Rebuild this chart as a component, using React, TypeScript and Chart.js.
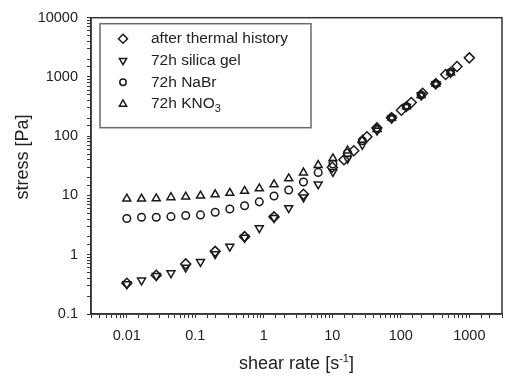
import React, { useEffect, useRef } from "react";
import { Chart, registerables } from "chart.js";

Chart.register(...registerables);

// ---- data ----
const rateGrid = [0.01, 0.0164, 0.0269, 0.0441, 0.0724, 0.119, 0.195, 0.319, 0.524, 0.859, 1.41, 2.31, 3.79, 6.22, 10.2, 16.7, 27.4, 45.0, 73.8, 121, 198, 325, 534];

const thermalRate = [0.01, 0.0269, 0.0724, 0.195, 0.524, 1.41, 3.79, 10, 14.8, 20.6, 32, 44.7, 73, 102, 142, 208, 324, 451, 661, 1000];
const thermalStress = [0.33, 0.45, 0.70, 1.14, 2.02, 4.35, 10.5, 30, 40, 57, 98, 138, 205, 275, 370, 530, 770, 1100, 1500, 2100];

const silicaStress = [0.32, 0.37, 0.44, 0.49, 0.61, 0.76, 1.03, 1.38, 1.95, 2.82, 4.2, 6.15, 9.3, 15.5, 25, 42, 72, 125, 200, 315, 490, 760, 1180];
const nabrStress = [4.1, 4.3, 4.3, 4.4, 4.6, 4.7, 5.2, 5.9, 6.7, 7.8, 9.8, 12.4, 16.9, 24.5, 34, 52, 84, 132, 205, 318, 494, 769, 1197];
const kno3Stress = [8.8, 8.8, 8.9, 9.3, 9.5, 9.9, 10.4, 11.0, 11.9, 13.1, 15.4, 19.3, 24.3, 32.5, 42, 57, 86, 131, 205, 318, 494, 769, 1197];

const seriesNames = ["after thermal history", "72h silica gel", "72h NaBr", "72h KNO"];
const xTickLabels = ["0.01", "0.1", "1", "10", "100", "1000"];
const yTickLabels = ["0.1", "1", "10", "100", "1000", "10000"];
const xTitle = "shear rate [s";
const yTitle = "stress [Pa]";

const FONT = '"Liberation Sans", Arial, Helvetica, sans-serif';
const INK = "#1a1a1a";

function pairs(xs: number[], ys: number[]) {
  return ys.map((y, i) => ({ x: xs[i], y }));
}

function labelFor(value: number, labels: string[], firstExp: number) {
  const e = Math.log10(value);
  const r = Math.round(e);
  if (Math.abs(e - r) < 1e-6) {
    const idx = r - firstExp;
    if (idx >= 0 && idx < labels.length) return labels[idx];
  }
  return "";
}

function drawMarker(ctx: CanvasRenderingContext2D, style: string, x: number, y: number, r: number, rot: number) {
  ctx.beginPath();
  if (style === "rectRot") {
    ctx.moveTo(x - r, y);
    ctx.lineTo(x, y - r);
    ctx.lineTo(x + r, y);
    ctx.lineTo(x, y + r);
    ctx.closePath();
  } else if (style === "triangle") {
    let rad = (rot * Math.PI) / 180;
    ctx.moveTo(x + Math.sin(rad) * r, y - Math.cos(rad) * r);
    rad += (2 * Math.PI) / 3;
    ctx.lineTo(x + Math.sin(rad) * r, y - Math.cos(rad) * r);
    rad += (2 * Math.PI) / 3;
    ctx.lineTo(x + Math.sin(rad) * r, y - Math.cos(rad) * r);
    ctx.closePath();
  } else {
    ctx.arc(x, y, r, 0, Math.PI * 2);
  }
  ctx.stroke();
}

const decoPlugin = {
  id: "deco",
  afterDraw(chart: any) {
    const ctx: CanvasRenderingContext2D = chart.ctx;
    const a = chart.chartArea;
    ctx.save();
    // frame
    ctx.strokeStyle = "#333";
    ctx.lineWidth = 1.5;
    ctx.strokeRect(a.left, a.top, a.right - a.left, a.bottom - a.top);

    // legend box
    const bx = a.left + 9;
    const by = a.top + 6;
    ctx.strokeStyle = "#6a6a6a";
    ctx.lineWidth = 1.5;
    ctx.strokeRect(bx, by, 211, 104);

    const styles = [
      { s: "rectRot", r: 4.5, rot: 0 },
      { s: "triangle", r: 4.2, rot: 180 },
      { s: "circle", r: 3.2, rot: 0 },
      { s: "triangle", r: 4.2, rot: 0 },
    ];
    ctx.font = `15.5px ${FONT}`;
    ctx.textBaseline = "middle";
    ctx.textAlign = "left";
    seriesNames.forEach((name, i) => {
      const y = by + 15 + i * 21.8;
      ctx.strokeStyle = INK;
      ctx.lineWidth = 1.5;
      drawMarker(ctx, styles[i].s, bx + 23, y, styles[i].r, styles[i].rot);
      ctx.fillStyle = "#222";
      ctx.font = `15.5px ${FONT}`;
      ctx.fillText(name, bx + 51, y);
      if (i === 3) {
        const w = ctx.measureText(name).width;
        ctx.font = `11px ${FONT}`;
        ctx.fillText("3", bx + 51 + w, y + 5);
      }
    });

    // x title with superscript
    ctx.fillStyle = "#222";
    ctx.textBaseline = "alphabetic";
    ctx.font = `18px ${FONT}`;
    const w1 = ctx.measureText(xTitle).width;
    ctx.font = `11px ${FONT}`;
    const w2 = ctx.measureText("-1").width;
    ctx.font = `18px ${FONT}`;
    const w3 = ctx.measureText("]").width;
    const total = w1 + w2 + w3;
    const cx = (a.left + a.right) / 2;
    const x0 = cx - total / 2;
    const baseY = 369;
    ctx.fillText(xTitle, x0, baseY);
    ctx.font = `11px ${FONT}`;
    ctx.fillText("-1", x0 + w1, baseY - 7);
    ctx.font = `18px ${FONT}`;
    ctx.fillText("]", x0 + w1 + w2, baseY);

    // y title
    ctx.translate(23, 157);
    ctx.rotate(-Math.PI / 2);
    ctx.textAlign = "center";
    ctx.textBaseline = "middle";
    ctx.fillText(yTitle, 0, 0);
    ctx.restore();
  },
};

export default function App() {
  const ref = useRef<HTMLCanvasElement | null>(null);

  useEffect(() => {
    if (!ref.current) return;
    const common = {
      showLine: false,
      borderColor: INK,
      backgroundColor: "rgba(0,0,0,0)",
      borderWidth: 1.5,
      pointBorderWidth: 1.5,
    };
    const chart = new Chart(ref.current, {
      type: "scatter",
      data: {
        datasets: [
          { ...common, label: seriesNames[3] + "3", data: pairs(rateGrid, kno3Stress), pointStyle: "triangle", pointRadius: 4.6 },
          { ...common, label: seriesNames[2], data: pairs(rateGrid, nabrStress), pointStyle: "circle", pointRadius: 3.8 },
          { ...common, label: seriesNames[1], data: pairs(rateGrid, silicaStress), pointStyle: "triangle", pointRotation: 180, pointRadius: 4.6 },
          { ...common, label: seriesNames[0], data: pairs(thermalRate, thermalStress), pointStyle: "rectRot", pointRadius: 5 },
        ],
      },
      options: {
        responsive: false,
        animation: false,
        devicePixelRatio: 1,
        layout: { padding: { top: 14, right: 2, left: 0, bottom: 0 } },
        plugins: { legend: { display: false }, tooltip: { enabled: false } },
        scales: {
          x: {
            type: "logarithmic",
            min: 0.003,
            max: 3000,
            afterFit: (s: any) => { s.height = 71; },
            grid: { drawOnChartArea: false, drawTicks: true, tickLength: 4, tickColor: "#333", tickWidth: 1 },
            border: { display: true, color: "#333", width: 1.5 },
            ticks: {
              autoSkip: false,
              maxRotation: 0,
              padding: 9,
              color: "#222",
              font: { family: FONT, size: 14.5 },
              callback: (v: any) => labelFor(Number(v), xTickLabels, -2),
            },
          },
          y: {
            type: "logarithmic",
            min: 0.1,
            max: 10000,
            afterFit: (s: any) => { s.width = 91; },
            grid: { drawOnChartArea: false, drawTicks: true, tickLength: 4, tickColor: "#333", tickWidth: 1 },
            border: { display: true, color: "#333", width: 1.5 },
            ticks: {
              autoSkip: false,
              padding: 9,
              color: "#222",
              font: { family: FONT, size: 14.5 },
              callback: (v: any) => labelFor(Number(v), yTickLabels, -1),
            },
          },
        },
      },
      plugins: [decoPlugin],
    } as any);
    return () => chart.destroy();
  }, []);

  return (
    <div style={{ position: "absolute", left: 0, top: 0, width: 511, height: 385, background: "#fff" }}>
      <canvas ref={ref} width={511} height={385} style={{ width: 511, height: 385, display: "block" }} />
    </div>
  );
}
